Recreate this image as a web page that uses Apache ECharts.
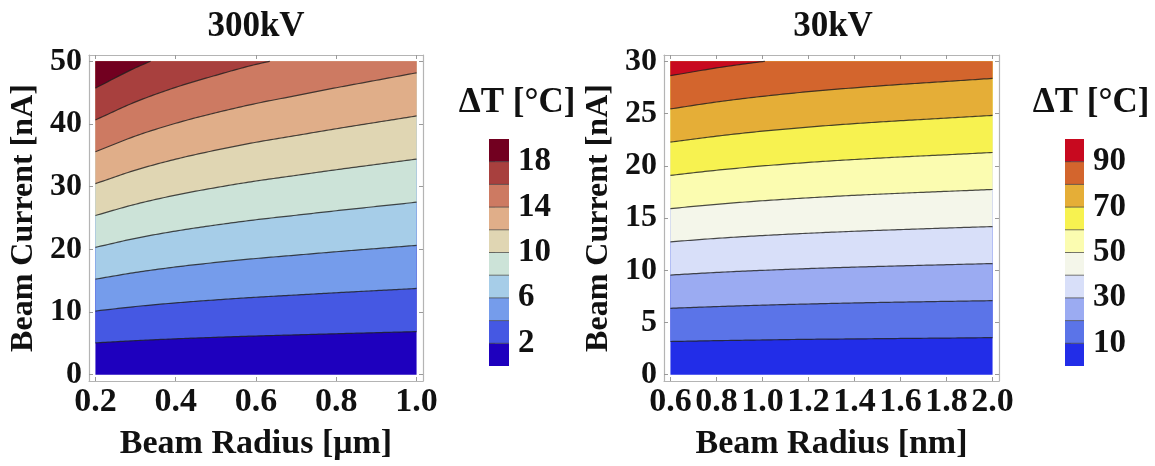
<!DOCTYPE html>
<html>
<head>
<meta charset="utf-8">
<script src="https://cdn.jsdelivr.net/npm/echarts@6/dist/echarts.min.js"></script>
<style>
html, body { margin: 0; padding: 0; background: #fff; }
#chart { width: 1155px; height: 466px; }
</style>
</head>
<body>
<div id="chart"></div>
<script>
// ---- 300 kV panel: isotherms, current [nA] vs beam radius [µm] ----
const radius300 = [0.2, 0.3, 0.4, 0.5, 0.6, 0.7, 0.8, 0.9, 1.0];
const levels300 = [2, 4, 6, 8, 10, 12, 14, 16, 18];
const iso300 = [
  [5.08, 5.44, 5.73, 5.97, 6.18, 6.36, 6.54, 6.71, 6.88],          // 2 °C
  [10.16, 10.88, 11.46, 11.94, 12.36, 12.72, 13.08, 13.42, 13.76], // 4 °C
  [15.24, 16.32, 17.19, 17.91, 18.54, 19.08, 19.62, 20.13, 20.64], // 6 °C
  [20.32, 21.76, 22.92, 23.88, 24.72, 25.44, 26.16, 26.84, 27.52], // 8 °C
  [25.4, 27.2, 28.65, 29.85, 30.9, 31.8, 32.7, 33.55, 34.4],       // 10 °C
  [30.48, 32.64, 34.38, 35.82, 37.08, 38.16, 39.24, 40.26, 41.28], // 12 °C
  [35.56, 38.08, 40.11, 41.79, 43.26, 44.52, 45.78, 46.97, 48.16], // 14 °C
  [40.64, 43.52, 45.84, 47.76, 49.5, 50.88, 52.32, 53.68, 55.04],  // 16 °C
  [45.72, 48.96, 51.57, 53.73, 55.62, 57.24, 58.86, 60.39, 61.92]  // 18 °C
];
const colors300 = ['#1e00be', '#4558e3', '#759ceb', '#a6cde8', '#cce3d8',
                   '#e0d6b3', '#e0ae89', '#cd7a62', '#a8403e', '#720020'];
const range300 = { x: [0.2, 1.0], y: [0, 50], t: [0, 20] };
const xTicks300 = [0.2, 0.4, 0.6, 0.8, 1.0];
const yTicks300 = [0, 10, 20, 30, 40, 50];
const barTicks300 = [2, 6, 10, 14, 18];

// ---- 30 kV panel: isotherms, current [nA] vs beam radius [nm] ----
const radius30 = [0.6, 0.8, 1.0, 1.2, 1.4, 1.6, 1.8, 2.0];
const levels30 = [10, 20, 30, 40, 50, 60, 70, 80, 90];
const iso30 = [
  [3.18, 3.26, 3.33, 3.39, 3.43, 3.47, 3.51, 3.55],          // 10 °C
  [6.36, 6.52, 6.66, 6.77, 6.87, 6.95, 7.02, 7.09],          // 20 °C
  [9.54, 9.79, 9.99, 10.16, 10.30, 10.42, 10.53, 10.64],     // 30 °C
  [12.72, 13.05, 13.32, 13.54, 13.73, 13.89, 14.04, 14.18],  // 40 °C
  [15.90, 16.31, 16.65, 16.93, 17.17, 17.37, 17.55, 17.73],  // 50 °C
  [19.08, 19.57, 19.98, 20.32, 20.60, 20.84, 21.05, 21.27],  // 60 °C
  [22.26, 22.83, 23.31, 23.70, 24.03, 24.31, 24.56, 24.82],  // 70 °C
  [25.44, 26.10, 26.64, 27.09, 27.46, 27.78, 28.07, 28.36],  // 80 °C
  [28.62, 29.36, 29.97, 30.47, 30.90, 31.26, 31.58, 31.91]   // 90 °C
];
const colors30 = ['#222de8', '#5b74e8', '#9babf2', '#d8dff9', '#f4f6ea',
                  '#fbfcb0', '#f7f250', '#e5ae37', '#d3652d', '#c8091f'];
const range30 = { x: [0.6, 2.0], y: [0, 30], t: [0, 100] };
const xTicks30 = [0.6, 0.8, 1.0, 1.2, 1.4, 1.6, 1.8, 2.0];
const yTicks30 = [0, 5, 10, 15, 20, 25, 30];
const barTicks30 = [10, 30, 50, 70, 90];

const FONT = 'Liberation Serif, Times New Roman, serif';
const INK = '#111';
const FRAME = '#b4b4b4';
const TICK = '#9a9a9a';
const ISO_LINE = 'rgba(30,30,30,0.8)';

// Catmull-Rom pass through the sampled isotherm points (drawing only)
function smoothCurve(xs, ys, steps) {
  const n = xs.length, out = [];
  for (let i = 0; i < n - 1; i++) {
    const y1 = ys[i], y2 = ys[i + 1];
    const y0 = i > 0 ? ys[i - 1] : 2 * y1 - y2;
    const y3 = i + 2 < n ? ys[i + 2] : 2 * y2 - y1;
    for (let s = 0; s < steps; s++) {
      const t = s / steps;
      const x = xs[i] + (xs[i + 1] - xs[i]) * t;
      const y = 0.5 * (2 * y1 + (-y0 + y2) * t + (2 * y0 - 5 * y1 + 4 * y2 - y3) * t * t +
                (-y0 + 3 * y1 - 3 * y2 + y3) * t * t * t);
      out.push([x, y]);
    }
  }
  out.push([xs[n - 1], ys[n - 1]]);
  return out;
}

// Filled bands + isotherm lines for one panel
function contourRenderer(xs, iso, colors, range) {
  return function (params, api) {
    const x0 = range.x[0], x1 = range.x[1], yTop = range.y[1], yBot = range.y[0];
    const clampY = v => Math.min(Math.max(v, yBot), yTop);
    const children = [];
    children.push({
      type: 'polygon',
      shape: { points: [[x0, yBot], [x1, yBot], [x1, yTop], [x0, yTop]].map(p => api.coord(p)) },
      style: { fill: colors[0] }
    });
    const curves = iso.map(row => smoothCurve(xs, row, 16));
    curves.forEach((c, k) => {
      const pts = c.map(p => api.coord([p[0], clampY(p[1])]));
      pts.push(api.coord([x1, yTop]), api.coord([x0, yTop]));
      children.push({ type: 'polygon', shape: { points: pts }, style: { fill: colors[k + 1] } });
    });
    curves.forEach(c => {
      const line = [];
      for (let i = 0; i < c.length; i++) {
        const p = c[i];
        if (p[1] <= yTop) { line.push(api.coord(p)); continue; }
        if (i > 0 && c[i - 1][1] < yTop) {
          const q = c[i - 1];
          const f = (yTop - q[1]) / (p[1] - q[1]);
          line.push(api.coord([q[0] + f * (p[0] - q[0]), yTop]));
        }
        break;
      }
      if (line.length > 1) {
        children.push({
          type: 'polyline', shape: { points: line },
          style: { stroke: ISO_LINE, lineWidth: 1.2, fill: null }
        });
      }
    });
    return { type: 'group', children };
  };
}

// Stepped colour legend
function legendRenderer(levels, colors, range) {
  return function (params, api) {
    const edges = [range.t[0]].concat(levels, [range.t[1]]);
    const children = [];
    for (let k = 0; k < colors.length; k++) {
      const a = api.coord([0, edges[k]]), b = api.coord([1, edges[k + 1]]);
      children.push({
        type: 'rect',
        shape: { x: a[0], y: b[1], width: b[0] - a[0], height: a[1] - b[1] },
        style: { fill: colors[k] }
      });
    }
    levels.forEach(v => {
      const a = api.coord([0, v]), b = api.coord([1, v]);
      children.push({
        type: 'line', shape: { x1: a[0], y1: a[1], x2: b[0], y2: b[1] },
        style: { stroke: 'rgba(60,60,60,0.7)', lineWidth: 1 }
      });
    });
    return { type: 'group', children };
  };
}

const text = size => ({ fontFamily: FONT, fontWeight: 'bold', fontSize: size, color: INK });

function frameAxes(gridIndex, rx, ry, xt, yt, xName, yName) {
  const padX = (rx[1] - rx[0]) * 0.02, padY = (ry[1] - ry[0]) * 0.02;
  const xr = { min: rx[0] - padX, max: rx[1] + padX };
  const yr = { min: ry[0] - padY, max: ry[1] + padY };
  const line = { show: true, onZero: false, lineStyle: { color: FRAME, width: 1.2 } };
  const tick = vals => ({ show: true, inside: true, length: 4, customValues: vals,
                           lineStyle: { color: TICK, width: 1 } });
  const xAxes = [
    {
      gridIndex, type: 'value', position: 'bottom', ...xr,
      axisLine: line, axisTick: tick(xt), splitLine: { show: false },
      axisLabel: { ...text(34), customValues: xt, margin: 4,
                   formatter: v => v.toFixed(1) },
      name: xName, nameLocation: 'middle', nameGap: 46,
      nameTextStyle: text(34)
    },
    {
      gridIndex, type: 'value', position: 'top', ...xr,
      axisLine: line, axisTick: tick(xt), axisLabel: { show: false }, splitLine: { show: false }
    }
  ];
  const yAxes = [
    {
      gridIndex, type: 'value', position: 'left', ...yr,
      axisLine: line, axisTick: tick(yt), splitLine: { show: false },
      axisLabel: { ...text(32), customValues: yt, margin: 7 },
      name: yName, nameLocation: 'middle', nameGap: 49,
      nameTextStyle: text(32)
    },
    {
      gridIndex, type: 'value', position: 'right', ...yr,
      axisLine: line, axisTick: tick(yt), axisLabel: { show: false }, splitLine: { show: false }
    }
  ];
  return { xAxes, yAxes };
}

function legendAxes(gridIndex, range, ticks) {
  return {
    xAxes: [{ gridIndex, type: 'value', min: 0, max: 1, show: false }],
    yAxes: [{
      gridIndex, type: 'value', position: 'right', min: range.t[0], max: range.t[1],
      axisLine: { show: false },
      axisTick: { show: true, inside: false, length: 6, customValues: ticks,
                  lineStyle: { color: TICK, width: 1 } },
      axisLabel: { ...text(33), customValues: ticks, margin: 9 },
      splitLine: { show: false }
    }]
  };
}

const A = frameAxes(0, range300.x, range300.y, xTicks300, yTicks300,
                    'Beam Radius [μm]', 'Beam Current [nA]');
const B = frameAxes(1, range30.x, range30.y, xTicks30, yTicks30,
                    'Beam Radius [nm]', 'Beam Current [nA]');
const C = legendAxes(2, range300, barTicks300);
const D = legendAxes(3, range30, barTicks30);

const xAxis = [].concat(A.xAxes, B.xAxes, C.xAxes, D.xAxes);
const yAxis = [].concat(A.yAxes, B.yAxes, C.yAxes, D.yAxes);

const option = {
  animation: false,
  backgroundColor: '#fff',
  title: [
    { text: '300kV', left: 256, top: 9, textAlign: 'center', padding: 0, textStyle: text(35) },
    { text: '30kV', left: 833, top: 9, textAlign: 'center', padding: 0, textStyle: text(35) },
    { text: 'ΔT [°C]', left: 517, top: 85, textAlign: 'center', padding: 0, textStyle: text(35) },
    { text: 'ΔT [°C]', left: 1091, top: 85, textAlign: 'center', padding: 0, textStyle: text(35) }
  ],
  grid: [
    { left: 89, top: 55, width: 334, height: 334 },
    { left: 664, top: 55, width: 335, height: 334 },
    { left: 489, top: 139, width: 20, height: 227 },
    { left: 1065, top: 139, width: 19, height: 227 }
  ],
  xAxis,
  yAxis,
  series: [
    { type: 'custom', xAxisIndex: 0, yAxisIndex: 0, data: [0], silent: true,
      renderItem: contourRenderer(radius300, iso300, colors300, range300) },
    { type: 'custom', xAxisIndex: 2, yAxisIndex: 2, data: [0], silent: true,
      renderItem: contourRenderer(radius30, iso30, colors30, range30) },
    { type: 'custom', xAxisIndex: 4, yAxisIndex: 4, data: [0], silent: true,
      renderItem: legendRenderer(levels300, colors300, range300) },
    { type: 'custom', xAxisIndex: 5, yAxisIndex: 5, data: [0], silent: true,
      renderItem: legendRenderer(levels30, colors30, range30) }
  ]
};

echarts.init(document.getElementById('chart'), null, { renderer: 'canvas' }).setOption(option);
</script>
</body>
</html>
